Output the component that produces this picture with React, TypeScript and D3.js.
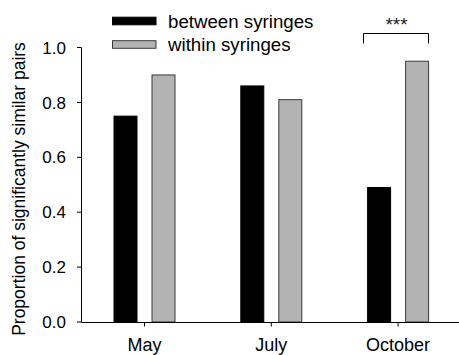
import React from "react";
import * as d3 from "d3";

const months = ["May", "July", "October"];
const seriesNames = ["between syringes", "within syringes"];
const betweenValues = [0.75, 0.86, 0.49];
const withinValues = [0.9, 0.81, 0.95];
const yTicks = [0.0, 0.2, 0.4, 0.6, 0.8, 1.0];

const W = 459;
const H = 355;

export default function App() {
  const y = d3.scaleLinear().domain([0, 1]).range([322, 47.5]);
  const sub = d3.scaleBand<string>().domain(seriesNames).range([-30.5, 30.5]).paddingInner(0.395).paddingOuter(0);
  const x = d3.scalePoint<string>().domain(months).range([144.5, 398.1]);
  const center = (m: string) => x(m) as number;
  const colors = ["#000000", "#b3b3b3"];
  const strokes = ["#000000", "#3a3a3a"];
  const series = [betweenValues, withinValues];
  const font = "Arial, 'Liberation Sans', Helvetica, sans-serif";
  const bw = sub.bandwidth();

  return (
    <svg width={W} height={H} style={{ position: "absolute", left: 0, top: 0 }} fontFamily={font}>
      <rect width={W} height={H} fill="#fff" />
      {/* bars */}
      {series.map((vals, si) =>
        months.map((m, mi) => (
          <rect
            key={`${si}-${mi}`}
            x={center(m) + (sub(seriesNames[si]) as number)}
            y={y(vals[mi])}
            width={bw}
            height={y(0) - y(vals[mi])}
            fill={colors[si]}
            stroke={strokes[si]}
            strokeWidth={1}
          />
        ))
      )}
      {/* axes */}
      <line x1={81.5} x2={81.5} y1={y(1)} y2={y(0)} stroke="#000" strokeWidth={1} />
      <line x1={81.5} x2={W} y1={y(0) + 0.5} y2={y(0) + 0.5} stroke="#000" strokeWidth={1} />
      {yTicks.map((t) => (
        <g key={t}>
          <line x1={77} x2={81.5} y1={y(t)} y2={y(t)} stroke="#000" strokeWidth={1} />
          <text x={66} y={y(t)} dy="0.36em" textAnchor="end" fontSize={17} fill="#000">
            {d3.format(".1f")(t)}
          </text>
        </g>
      ))}
      {months.map((m) => (
        <g key={m}>
          <line x1={center(m)} x2={center(m)} y1={y(0)} y2={y(0) + 4.5} stroke="#000" strokeWidth={1} />
          <text x={center(m)} y={350.5} textAnchor="middle" fontSize={18} fill="#000">
            {m}
          </text>
        </g>
      ))}
      <text
        transform={`translate(25,${189}) rotate(-90)`}
        textAnchor="middle"
        fontSize={17.5}
        fill="#000"
      >
        Proportion of significantly similar pairs
      </text>
      {/* legend */}
      {seriesNames.map((s, i) => (
        <g key={s} transform={`translate(0,${21 + i * 23.5})`}>
          <rect x={112.5} y={-3.8} width={43.5} height={7.6} fill={colors[i]} stroke={strokes[i]} strokeWidth={1} />
          <text x={168} y={0} dy="0.36em" fontSize={18.7} fill="#000">
            {s}
          </text>
        </g>
      ))}
      {/* significance bracket */}
      <path d="M363.5,43.5V33.5H428.5V43.5" fill="none" stroke="#000" strokeWidth={1} />
      <text x={396.5} y={30.5} textAnchor="middle" fontSize={19} fill="#222">
        ***
      </text>
    </svg>
  );
}
